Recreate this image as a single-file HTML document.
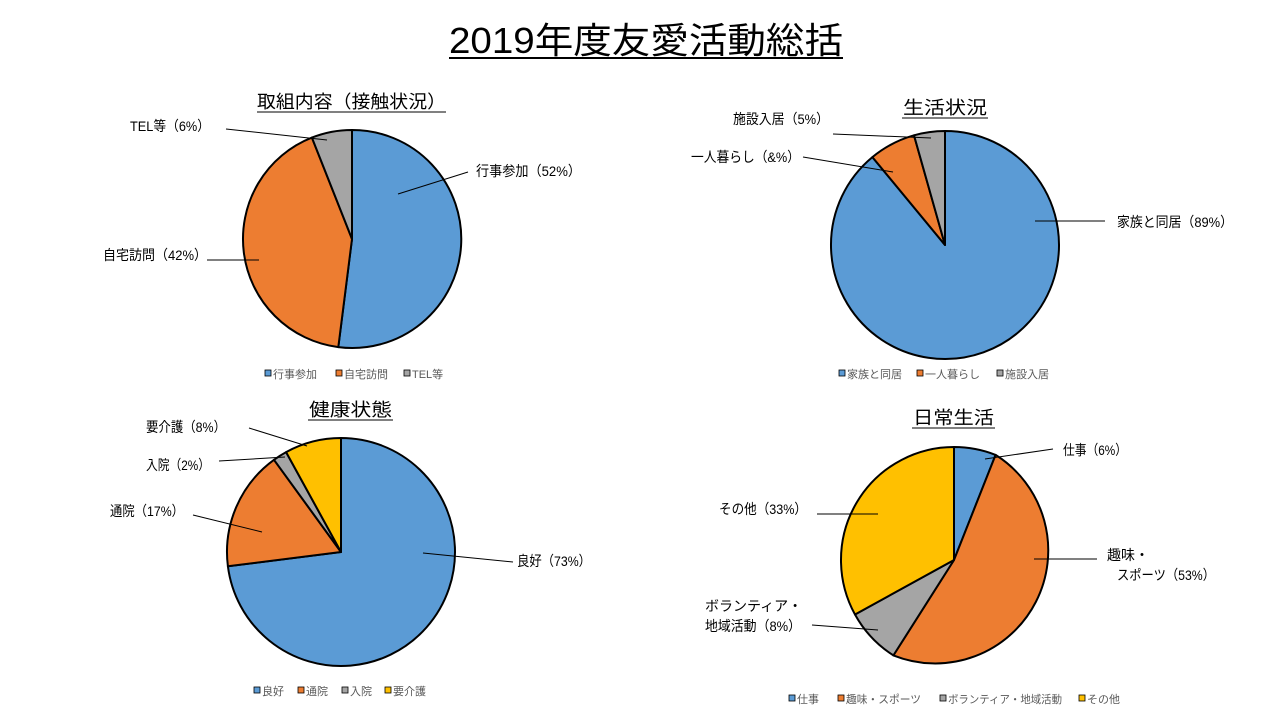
<!DOCTYPE html>
<html><head><meta charset="utf-8"><style>
body{margin:0;background:#fff;}
svg text{font-family:"Liberation Sans","Noto Sans CJK JP",sans-serif;fill:#000;}
.lg{font-size:11px;fill:#595959;}
.lb{font-size:14px;}
.st{font-size:18px;}
</style></head><body>
<svg width="1280" height="720" viewBox="0 0 1280 720" xmlns="http://www.w3.org/2000/svg">
<text x="449" y="53" font-size="36" textLength="394" lengthAdjust="spacingAndGlyphs">2019年度友愛活動総括</text>
<line x1="449" y1="58" x2="843" y2="58" stroke="#000" stroke-width="2"/>

<g stroke="#000" stroke-width="2" stroke-linejoin="round">
<path d="M352,239 L352,130 A109,109 0 1 1 338.3,347.1 Z" fill="#5B9BD5"/>
<path d="M352,239 L338.3,347.1 A109,109 0 0 1 311.9,137.6 Z" fill="#ED7D31"/>
<path d="M352,239 L311.9,137.6 A109,109 0 0 1 352,130 Z" fill="#A5A5A5"/>
<path d="M945,245 L945,131 A114,114 0 1 1 872.4,157.1 Z" fill="#5B9BD5"/>
<path d="M945,245 L872.4,157.1 A114,114 0 0 1 914,135.3 Z" fill="#ED7D31"/>
<path d="M945,245 L914,135.3 A114,114 0 0 1 945,131 Z" fill="#A5A5A5"/>
<path d="M341,552 L341,438 A114,114 0 1 1 227.9,566.3 Z" fill="#5B9BD5"/>
<path d="M341,552 L227.9,566.3 A114,114 0 0 1 274,459.8 Z" fill="#ED7D31"/>
<path d="M341,552 L274,459.8 A114,114 0 0 1 286.1,452.1 Z" fill="#A5A5A5"/>
<path d="M341,552 L286.1,452.1 A114,114 0 0 1 341,438 Z" fill="#FFC000"/>
<path d="M954,560 L954,447 A113,113 0 0 1 995.6,454.9 Z" fill="#5B9BD5"/>
<path d="M954,560 L995.6,454.9 A113,113 0 0 1 893.4,655.4 Z" fill="#ED7D31"/>
<path d="M954,560 L893.4,655.4 A113,113 0 0 1 855,614.5 Z" fill="#A5A5A5"/>
<path d="M954,560 L855,614.5 A113,113 0 0 1 954,447 Z" fill="#FFC000"/>
</g>

<g stroke="#000" stroke-width="1">
<line x1="226" y1="129" x2="327" y2="140"/>
<line x1="398" y1="194" x2="468" y2="172"/>
<line x1="207" y1="260" x2="259" y2="260"/>
<line x1="1035" y1="221" x2="1105" y2="221"/>
<line x1="803" y1="157" x2="893" y2="172"/>
<line x1="833" y1="134" x2="931" y2="138"/>
<line x1="423" y1="553" x2="513" y2="562"/>
<line x1="193" y1="515" x2="262" y2="532"/>
<line x1="219" y1="461" x2="285" y2="457"/>
<line x1="249" y1="428" x2="307" y2="446"/>
<line x1="985" y1="459" x2="1053" y2="449"/>
<line x1="1034" y1="559" x2="1097" y2="559"/>
<line x1="817" y1="514" x2="878" y2="514"/>
<line x1="812" y1="625" x2="878" y2="630"/>
</g>

<text class="st" x="257" y="108" textLength="189" lengthAdjust="spacingAndGlyphs">取組内容（接触状況）</text>
<line x1="257" y1="112" x2="446" y2="112" stroke="#000"/>
<text class="st" x="903" y="114" textLength="84" lengthAdjust="spacingAndGlyphs">生活状況</text>
<line x1="902" y1="118" x2="988" y2="118" stroke="#000"/>
<text class="st" x="309" y="416" textLength="83" lengthAdjust="spacingAndGlyphs">健康状態</text>
<line x1="308" y1="420" x2="393" y2="420" stroke="#000"/>
<text class="st" x="913" y="424" textLength="81" lengthAdjust="spacingAndGlyphs">日常生活</text>
<line x1="912" y1="428" x2="995" y2="428" stroke="#000"/>

<text class="lb" x="130" y="131" textLength="80" lengthAdjust="spacingAndGlyphs">TEL等（6%）</text>
<text class="lb" x="476" y="176" textLength="105" lengthAdjust="spacingAndGlyphs">行事参加（52%）</text>
<text class="lb" x="103" y="260" textLength="104" lengthAdjust="spacingAndGlyphs">自宅訪問（42%）</text>
<text class="lb" x="733" y="124" textLength="96" lengthAdjust="spacingAndGlyphs">施設入居（5%）</text>
<text class="lb" x="691" y="162" textLength="109" lengthAdjust="spacingAndGlyphs">一人暮らし（&amp;%）</text>
<text class="lb" x="1117" y="227" textLength="116" lengthAdjust="spacingAndGlyphs">家族と同居（89%）</text>
<text class="lb" x="146" y="432" textLength="80" lengthAdjust="spacingAndGlyphs">要介護（8%）</text>
<text class="lb" x="146" y="470" textLength="64" lengthAdjust="spacingAndGlyphs">入院（2%）</text>
<text class="lb" x="110" y="516" textLength="74" lengthAdjust="spacingAndGlyphs">通院（17%）</text>
<text class="lb" x="517" y="566" textLength="74" lengthAdjust="spacingAndGlyphs">良好（73%）</text>
<text class="lb" x="1063" y="455" textLength="64" lengthAdjust="spacingAndGlyphs">仕事（6%）</text>
<text class="lb" x="719" y="514" textLength="88" lengthAdjust="spacingAndGlyphs">その他（33%）</text>
<text class="lb" x="1107" y="560">趣味・</text>
<text class="lb" x="1117" y="580" textLength="98" lengthAdjust="spacingAndGlyphs">スポーツ（53%）</text>
<text class="lb" x="705" y="611">ボランティア・</text>
<text class="lb" x="705" y="631" textLength="96" lengthAdjust="spacingAndGlyphs">地域活動（8%）</text>

<g stroke="#000" stroke-width="0.8">
<rect x="265" y="370" width="6" height="6" fill="#5B9BD5"/>
<rect x="336" y="370" width="6" height="6" fill="#ED7D31"/>
<rect x="404" y="370" width="6" height="6" fill="#A5A5A5"/>
<rect x="839" y="370" width="6" height="6" fill="#5B9BD5"/>
<rect x="917" y="370" width="6" height="6" fill="#ED7D31"/>
<rect x="997" y="370" width="6" height="6" fill="#A5A5A5"/>
<rect x="254" y="687" width="6" height="6" fill="#5B9BD5"/>
<rect x="298" y="687" width="6" height="6" fill="#ED7D31"/>
<rect x="342" y="687" width="6" height="6" fill="#A5A5A5"/>
<rect x="385" y="687" width="6" height="6" fill="#FFC000"/>
<rect x="789" y="695" width="6" height="6" fill="#5B9BD5"/>
<rect x="838" y="695" width="6" height="6" fill="#ED7D31"/>
<rect x="940" y="695" width="6" height="6" fill="#A5A5A5"/>
<rect x="1079" y="695" width="6" height="6" fill="#FFC000"/>
</g>
<text class="lg" x="273" y="378">行事参加</text>
<text class="lg" x="344" y="378">自宅訪問</text>
<text class="lg" x="412" y="378">TEL等</text>
<text class="lg" x="847" y="378">家族と同居</text>
<text class="lg" x="925" y="378">一人暮らし</text>
<text class="lg" x="1005" y="378">施設入居</text>
<text class="lg" x="262" y="695">良好</text>
<text class="lg" x="306" y="695">通院</text>
<text class="lg" x="350" y="695">入院</text>
<text class="lg" x="393" y="695">要介護</text>
<text class="lg" x="797" y="703">仕事</text>
<text class="lg" x="846" y="703" textLength="75" lengthAdjust="spacingAndGlyphs">趣味・スポーツ</text>
<text class="lg" x="948" y="703" textLength="114" lengthAdjust="spacingAndGlyphs">ボランティア・地域活動</text>
<text class="lg" x="1087" y="703">その他</text>
</svg>
</body></html>
